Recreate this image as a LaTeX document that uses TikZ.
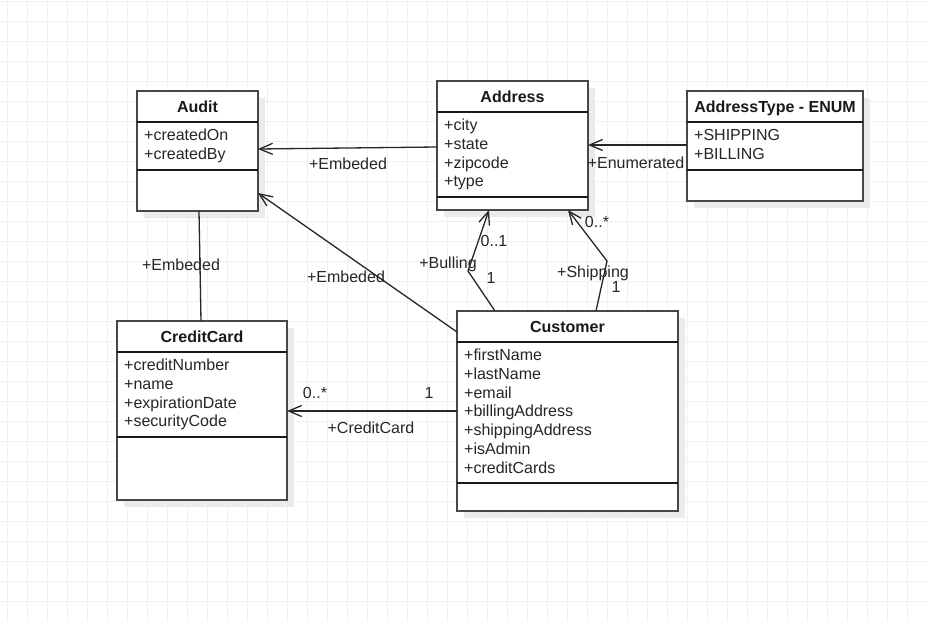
\documentclass[tikz,border=0pt]{standalone}
\usepackage{fontspec}
\setmainfont{Liberation Sans}
\usetikzlibrary{calc}
\usetikzlibrary{arrows.meta}

\tikzset{
	gridline/.style={draw=black!6, line width=1pt},
	boxshadow/.style={fill=black!8},
	classbox/.style={draw=black!72, line width=1.6pt, fill=white, anchor=north west, inner sep=0pt, outer sep=0pt},
	divider/.style={draw=black!90, line width=1.1pt},
	classtitle/.style={anchor=base, inner sep=0pt, font=\fontsize{16}{19}\selectfont\bfseries, text=black!90},
	attrtext/.style={anchor=base west, inner sep=0pt, text=black!85},
	assoc/.style={draw=black!85, line width=1.3pt, -{Straight Barb[length=13pt,width=11pt]}},
	link/.style={draw=black!85, line width=1.3pt},
	linklabel/.style={anchor=base, inner sep=0pt, text=black!85}
}

% #1 name, #2 x, #3 y, #4 width, #5 height, #6 height of the attribute part, #7 title, #8 attributes
\newcommand{\umlclass}[8]{%
	\fill[boxshadow] (#2+7,#3+7) rectangle ++(#4,#5);
	\node[classbox, minimum width=#4pt, minimum height=#5pt] (#1) at (#2,#3) {};
	\node[classtitle] (#1-title) at ($(#1.north)+(0,21)$) {#7};
	\draw[divider] ($(#1.north west)+(0,31)$) -- ++(#4,0);
	\draw[divider] ($(#1.north west)+(0,31+#6)$) -- ++(#4,0);
	\foreach \attr [count=\i] in {#8}
		\node[attrtext] (#1-attr\i) at ($(#1.north west)+(7,49.5+18.8*\i-18.8)$) {\attr};
}

\begin{document}
\begin{tikzpicture}[x=1pt, y=-1pt, font=\fontsize{16}{19}\selectfont]
	\useasboundingbox[fill=white] (0,0) rectangle (927,621);
	% grid
	\foreach \gx in {7,27,...,927}
		\draw[gridline] (\gx,0) -- (\gx,621);
	\foreach \gy in {1,21,...,621}
		\draw[gridline] (0,\gy) -- (927,\gy);

	% classes
	\umlclass{audit}{137}{91}{121}{120}{48}{Audit}{+createdOn,+createdBy}
	\umlclass{address}{437}{81}{151}{129}{85}{Address}{+city,+state,+zipcode,+type}
	\umlclass{addrtype}{687}{91}{176}{110}{48}{AddressType - ENUM}{+SHIPPING,+BILLING}
	\umlclass{creditcard}{117}{321}{170}{179}{85}{CreditCard}{+creditNumber,+name,+expirationDate,+securityCode}
	\umlclass{customer}{457}{311}{221}{200}{141}{Customer}{+firstName,+lastName,+email,+billingAddress,+shippingAddress,+isAdmin,+creditCards}

	% bends
	\coordinate (billbend) at (468,271);
	\coordinate (shipbend) at (607,261);

	% associations
	\draw[assoc] ($(address.north west)+(0,66)$) -- ($(audit.north east)+(0,58)$);
	\draw[assoc] ($(addrtype.north west)+(0,54)$) -- ($(address.north east)+(0,64)$);
	\draw[assoc] ($(customer.north west)+(0,21)$) -- ($(audit.north east)+(0,102)$);
	\draw[link] ($(audit.south west)+(62,0)$) -- ($(creditcard.north west)+(84,0)$);
	\draw[assoc] ($(customer.north west)+(0,100)$) -- ($(creditcard.north east)+(0,90)$);
	\draw[assoc] ($(customer.north west)+(38,0)$) -- (billbend) -- ($(address.south west)+(52,0)$);
	\draw[assoc] ($(customer.north west)+(139,0)$) -- (shipbend) -- ($(address.south west)+(131,0)$);

	% labels
	\node[linklabel] (lbl-addraudit) at (348,169) {+Embeded};
	\node[linklabel] (lbl-enum) at (636,168) {+Enumerated};
	\node[linklabel] (lbl-custaudit) at (346,282) {+Embeded};
	\node[linklabel] (lbl-cardaudit) at (181,270) {+Embeded};
	\node[linklabel] (lbl-cardmany) at (315,398) {0..*};
	\node[linklabel] (lbl-cardone) at (429,398) {1};
	\node[linklabel] (lbl-card) at (371,433) {+CreditCard};
	\node[linklabel] (lbl-bill) at (448,268) {+Bulling};
	\node[linklabel] (lbl-billmany) at (494,246) {0..1};
	\node[linklabel] (lbl-billone) at (491,283) {1};
	\node[linklabel] (lbl-shipmany) at (597,227) {0..*};
	\node[linklabel] (lbl-ship) at (593,277) {+Shipping};
	\node[linklabel] (lbl-shipone) at (616,292) {1};
\end{tikzpicture}
\end{document}
